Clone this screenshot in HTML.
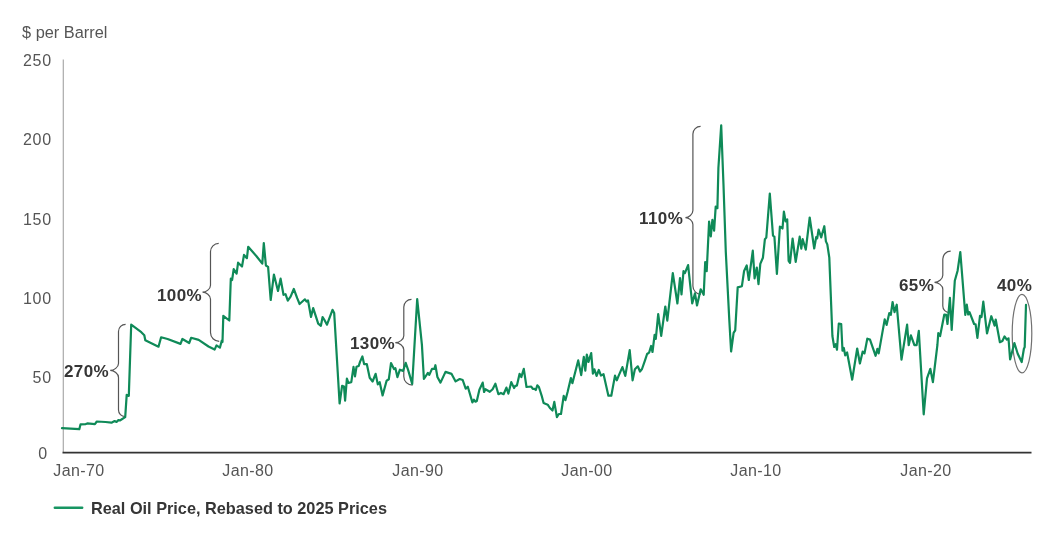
<!DOCTYPE html>
<html><head><meta charset="utf-8">
<style>
html,body{margin:0;padding:0;background:#fff;}
body{width:1055px;height:544px;overflow:hidden;position:relative;font-family:"Liberation Sans",sans-serif;}
.t,.b{will-change:transform;}
.t{position:absolute;white-space:nowrap;color:#555;font-size:16px;line-height:1;}
.y{text-align:right;width:40px;left:12.2px;letter-spacing:0.8px;}
.x{text-align:center;width:80px;letter-spacing:0.4px;}
.b{position:absolute;white-space:nowrap;color:#363636;font-weight:bold;font-size:17px;letter-spacing:0.4px;line-height:1;}
svg{position:absolute;left:0;top:0;}
</style></head><body>
<svg width="1055" height="544" viewBox="0 0 1055 544">
<line x1="63.3" y1="59.5" x2="63.3" y2="452" stroke="#aaa" stroke-width="1.2"/>
<line x1="62.5" y1="452.6" x2="1031.5" y2="452.6" stroke="#333" stroke-width="1.6"/>
<g fill="none" stroke="#555" stroke-width="1.2">
<path d="M125.60,324.30 C121.68,324.30 118.50,327.48 118.50,331.40 L118.50,363.40 C118.50,367.26 113.92,370.40 110.20,370.40 C113.92,370.40 118.50,373.54 118.50,377.40 L118.50,410.10 C118.50,413.69 121.41,416.60 125.00,416.60"/>
<path d="M218.70,243.40 C214.17,243.40 210.50,247.07 210.50,251.60 L210.50,285.20 C210.50,289.06 206.08,292.20 202.50,292.20 C206.08,292.20 210.50,295.34 210.50,299.20 L210.50,332.60 C210.50,337.40 214.40,341.30 219.20,341.30"/>
<path d="M411.50,299.40 C407.25,299.40 403.80,302.85 403.80,307.10 L403.80,335.70 C403.80,339.56 399.11,342.70 395.30,342.70 C399.11,342.70 403.80,345.84 403.80,349.70 L403.80,376.40 C403.80,381.26 407.74,385.20 412.60,385.20"/>
<path d="M700.60,126.30 C696.35,126.30 692.90,129.75 692.90,134.00 L692.90,210.60 C692.90,214.46 688.76,217.60 685.40,217.60 C688.76,217.60 692.90,220.74 692.90,224.60 L692.90,286.10 C692.90,290.57 696.53,294.20 701.00,294.20"/>
<path d="M950.70,251.20 C946.34,251.20 942.80,254.74 942.80,259.10 L942.80,275.30 C942.80,279.16 938.22,282.30 934.50,282.30 C938.22,282.30 942.80,285.44 942.80,289.30 L942.80,306.10 C942.80,309.69 945.71,312.60 949.30,312.60"/>
<ellipse cx="1022" cy="333.6" rx="9.8" ry="39.2" stroke="#707070"/>
</g>
<polyline points="62,428.2 79.3,429.2 80.5,424.4 85.8,424.1 87.3,423.4 94.9,424.1 96.8,421.5 105.5,422 111.5,422.7 114.6,421.1 116.5,422 118.4,420.1 119.9,420.5 125.2,417.1 126.7,394.9 128.8,395.9 131.2,324.7 141.3,332.2 144.3,335.2 145.3,340.3 158.5,346.7 161.1,337.3 167.6,339 180.5,343.9 182.4,339 189.2,343 191.1,337.8 198.7,339.9 208.5,346.5 214.6,349.6 216.5,345.4 219.9,347.7 221.8,340.5 222.5,342 223.3,315.9 229.3,320.5 230.8,278.7 232.1,280 233.7,269.1 236.6,273.6 238.1,262.7 242,266.5 244,254.9 246.9,258.2 248.2,246.8 256.5,256.2 262.3,263.6 263.8,243 265.9,265.5 268.1,266.9 270.7,300 273.9,274.6 278,291 280.6,278.7 283.5,294.8 285.5,294.2 287.8,300.6 290.6,296.7 293.8,289 297.2,298.2 299.6,304 304.9,299.3 306.6,301.5 308,300.4 311,317 313.2,308.1 318.2,323.6 320.9,325.8 322.6,317 324.6,320.3 327,324.7 332.5,309.8 334.2,313.1 339.6,403.5 342.1,385.9 344,386.6 345.1,400.6 346.9,378.5 348.4,382.9 351.3,382.2 353.5,366.8 355,376.3 356.5,366.8 358.7,366 360.1,361.6 362.4,356.5 364.1,364.1 366.8,364.1 369.7,377.8 372.6,381.5 375.6,373.8 377.8,384.4 379.7,382.2 382.6,395.4 386.6,380.7 388.8,379.3 391,363.1 394,369 395.4,368.2 397.4,377.1 399.9,369.7 403.1,370.9 405.7,362.8 408.1,369.9 412.2,384 417.2,299.1 421.9,344.6 423.9,379 427.9,372.9 429.3,374.9 432,368.9 434.4,368.9 435.4,365.2 437.4,377 440.5,382.6 445.5,371.9 451.6,373.9 455.6,381.4 459.7,379 462.7,380 465.7,388.7 467.8,386.7 472.4,402.4 473.9,399.7 475.5,401.7 476.8,401 479.4,389.8 482.7,382.6 484.1,392 485.4,389.2 489.8,391.8 492.6,389.2 495.4,383.7 498.4,394.2 500.9,392.9 503.6,394.2 506.4,387.6 508.4,393.6 511.3,382.1 514.1,388.1 515.2,385.9 516.9,385.6 519.6,373.8 521.3,377.1 523.8,368.8 526.5,387 531.2,386.5 532.8,388.9 534.5,388.9 535.8,390 537.3,385.4 538.9,387 541.7,395.8 543.6,403 547.7,404.7 549.9,408 552.5,410.5 554.3,401.9 556.9,417.1 558.8,414 561,414 563.7,395.8 565.4,400.2 567.6,392 570.9,378.1 572.4,383.2 575,372.9 578.2,360.4 581.2,375.1 583.8,356.8 585.3,370.7 586.8,354.6 588.5,361.9 591.2,353.1 592.9,373.7 594.4,369.3 596.6,375.9 598.8,370 601,375.6 603.5,374.1 608.4,395.7 611.3,395.7 615,375.6 616.8,380.3 618.7,375.6 622.4,367.1 625.3,375.9 629.7,350.1 632.6,380.3 634.9,369.3 637.8,366.3 640,371.5 642,369 645,360.4 647.1,354 649.1,352.6 651.1,346 652.5,352 654.6,334.8 655.8,338.9 658.2,314.2 661.2,335.8 665.3,306.5 667.3,320.7 672.8,273.1 677.4,303.5 680,278.2 681.5,294.4 683.5,271.1 684.9,273.1 688.1,265.1 692.2,303.5 695,293.4 697,305.5 700.7,289.3 703.7,294.8 705.2,262 706.7,271.1 709.1,221.5 710.8,236.4 712.4,219.8 714.1,230.6 715.7,206.6 717.4,208.2 718.4,168 721.2,125.3 723.5,185 725.8,252 729.3,320 731.1,351.5 733.6,332.9 735.2,330.4 737.7,287.4 741.9,286.2 744.1,270.9 746.7,265.5 748.8,280 752.8,250.7 754.6,278.4 756.8,267.5 758.5,284.1 760.3,263.9 762.9,257.8 764.9,239.2 766.3,237.6 769.8,193.5 773,235.6 774.4,236.6 776.9,274 779.9,226.5 782.5,228.5 783.9,211.7 785.6,221.4 787.2,219.4 788.6,260.8 790,262.9 792.6,238.6 795.7,261.8 799.7,236.6 801.3,248.7 802.7,239.2 805.8,249.7 809.7,217.5 814.2,248.5 816.2,237 817.2,238.4 818.6,229.7 821.2,237.4 824.3,226.2 825.9,241.4 827.3,244.4 829.3,257.6 832.4,336 834.2,347 835.7,344.2 837,349.7 838.8,323.5 841.2,324 842.5,350.7 843.8,347.9 845.2,355.3 847.1,352.5 852.2,379.7 857.2,348.5 859.9,363.5 862.7,351.6 864.5,353.4 867.3,338.7 870,339.6 873.2,348.8 875.6,355.8 877.4,348.8 878.7,353.4 884.7,319.4 886.6,324.9 889.3,313 890.8,314.8 892.6,302 894.5,312.1 896.7,304.7 901.5,359.6 907.1,324.7 908.7,345.2 910.9,335.3 914.4,345.2 916.6,345.2 918.8,330.9 923.7,414.3 927,378.3 930.3,368.8 932.9,382.1 937.4,345 938.3,333.2 940.1,336 944.3,314.5 946.2,314.9 947.5,324 949.9,297.9 951.7,329.9 954.8,280.8 957.6,270.7 960.3,252 965.3,314.9 966.8,304.7 968.2,314.5 969.5,312.1 974.1,324 975.6,324.4 977.4,337.8 980,315.8 981.5,317.1 983.3,301.6 987,333.4 991.3,316.2 993.2,321.5 994.6,325.6 995.7,319.5 999.9,342.2 1002.4,341 1004.5,336.4 1006.8,339.7 1008.5,338.3 1010.1,359.5 1014.4,343 1017.7,353.7 1021.7,362 1023.9,348.8 1024.7,347.1 1026,304.9" fill="none" stroke="#0f8a58" stroke-width="2.2" stroke-linejoin="round" stroke-linecap="round"/>
<line x1="54.8" y1="507.8" x2="82.2" y2="507.8" stroke="#179562" stroke-width="2.4" stroke-linecap="round"/>
</svg>
<div class="t" style="left:22px;top:23.6px;font-size:16.35px;">$ per Barrel</div>
<div class="t y" style="top:53px;">250</div>
<div class="t y" style="top:132px;">200</div>
<div class="t y" style="top:212px;">150</div>
<div class="t y" style="top:291px;">100</div>
<div class="t y" style="top:370px;">50</div>
<div class="t y" style="top:446px;left:7.6px;">0</div>
<div class="t x" style="left:38.6px;top:463px;">Jan-70</div>
<div class="t x" style="left:208.3px;top:463px;">Jan-80</div>
<div class="t x" style="left:378px;top:463px;">Jan-90</div>
<div class="t x" style="left:547px;top:463px;">Jan-00</div>
<div class="t x" style="left:716px;top:463px;">Jan-10</div>
<div class="t x" style="left:886px;top:463px;">Jan-20</div>
<div class="b" style="left:63.6px;top:363px;">270%</div>
<div class="b" style="left:156.7px;top:287px;">100%</div>
<div class="b" style="left:349.6px;top:335px;">130%</div>
<div class="b" style="left:638.9px;top:210px;">110%</div>
<div class="b" style="left:898.8px;top:276.5px;">65%</div>
<div class="b" style="left:997.3px;top:276.5px;">40%</div>
<div class="b" style="left:90.7px;top:499.6px;font-size:16.3px;letter-spacing:0;">Real Oil Price, Rebased to 2025 Prices</div>
</body></html>
